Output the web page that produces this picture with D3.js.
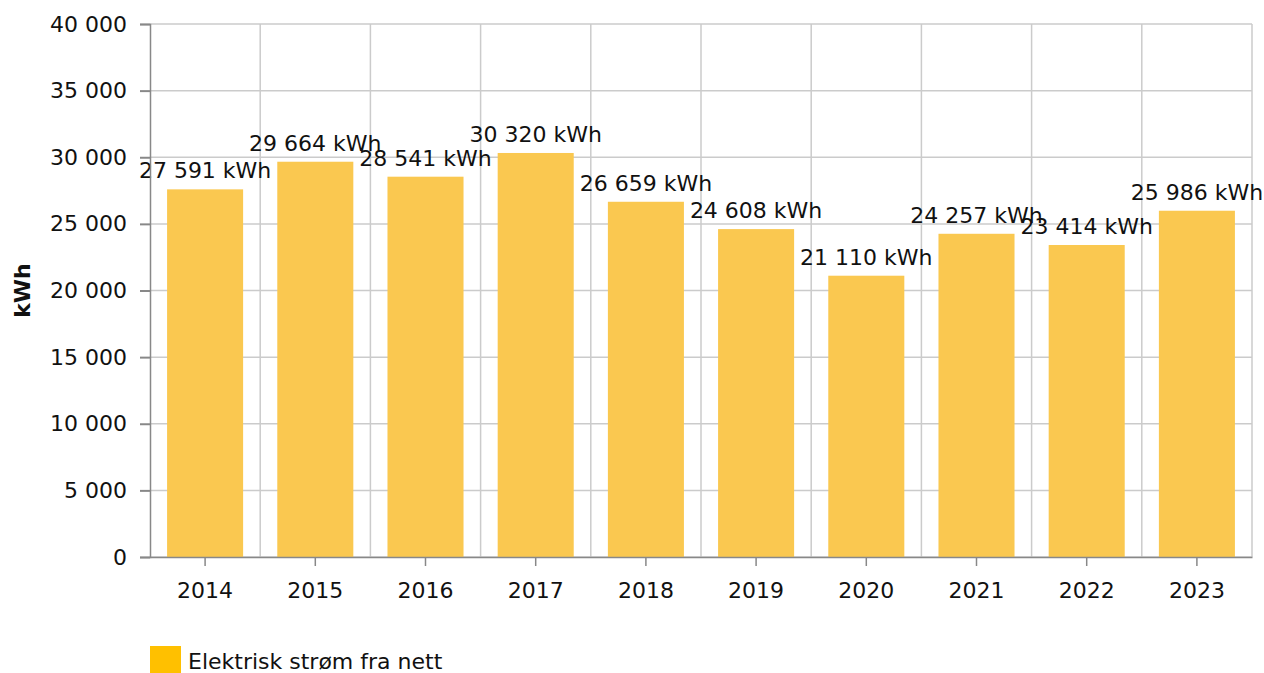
<!DOCTYPE html>
<html>
<head>
<meta charset="utf-8">
<script src="https://cdn.jsdelivr.net/npm/d3@7"></script>
<style>
  body { margin: 0; background: #fff; }
  svg text { font-family: "DejaVu Sans", Verdana, sans-serif; fill: #111; }
</style>
</head>
<body>
<div id="chart"></div>
<script>
const years = ['2014', '2015', '2016', '2017', '2018', '2019', '2020', '2021', '2022', '2023'];
const values = [27591, 29664, 28541, 30320, 26659, 24608, 21110, 24257, 23414, 25986];
const yTicks = [0, 5000, 10000, 15000, 20000, 25000, 30000, 35000, 40000];
const seriesName = 'Elektrisk strøm fra nett';
const unit = 'kWh';

const W = 1264, H = 673;
const margin = { top: 24, right: 12, bottom: 116, left: 150 };
const width = W - margin.left - margin.right;
const height = H - margin.top - margin.bottom;

// thousands with a space, like "40 000"
const fmt = v => d3.format(',')(v).replace(/,/g, ' ');

const svg = d3.select('#chart')
  .append('svg')
  .attr('width', W)
  .attr('height', H);

const g = svg.append('g')
  .attr('transform', `translate(${margin.left},${margin.top})`);

const x = d3.scaleBand()
  .domain(years)
  .range([0, width])
  .paddingInner(0.31)
  .paddingOuter(0.155);

const xCat = d3.scaleBand().domain(years).range([0, width]);

const y = d3.scaleLinear()
  .domain([0, 40000])
  .range([height, 0]);

// grid
g.append('g')
  .selectAll('line')
  .data(yTicks)
  .join('line')
  .attr('x1', 0).attr('x2', width)
  .attr('y1', d => y(d)).attr('y2', d => y(d))
  .attr('stroke', '#cbcbcb')
  .attr('stroke-width', 1.5);

g.append('g')
  .selectAll('line')
  .data(years.slice(1).concat(['end']))
  .join('line')
  .attr('x1', d => d === 'end' ? width : xCat(d))
  .attr('x2', d => d === 'end' ? width : xCat(d))
  .attr('y1', 0).attr('y2', height)
  .attr('stroke', '#cbcbcb')
  .attr('stroke-width', 1.5);

// bars
g.append('g')
  .selectAll('rect')
  .data(values)
  .join('rect')
  .attr('x', (d, i) => x(years[i]))
  .attr('y', d => y(d))
  .attr('width', x.bandwidth())
  .attr('height', d => height - y(d))
  .attr('fill', '#fac850');

// value labels
g.append('g')
  .selectAll('text')
  .data(values)
  .join('text')
  .attr('x', (d, i) => x(years[i]) + x.bandwidth() / 2)
  .attr('y', d => y(d) - 11)
  .attr('text-anchor', 'middle')
  .attr('font-size', '22px')
  .text(d => `${fmt(d)} ${unit}`);

// y axis
const yAxis = g.append('g')
  .call(d3.axisLeft(y).tickValues(yTicks).tickFormat(fmt).tickSize(10).tickPadding(13));
yAxis.select('.domain').attr('stroke', '#888').attr('stroke-width', 1.5);
yAxis.selectAll('.tick line').attr('stroke', '#888').attr('stroke-width', 2);
yAxis.selectAll('.tick text').attr('font-size', '22px').attr('font-family', null);

// x axis
const xAxis = g.append('g')
  .attr('transform', `translate(0,${height})`)
  .call(d3.axisBottom(x).tickSize(9).tickSizeOuter(0).tickPadding(16));
xAxis.select('.domain').attr('stroke', '#888').attr('stroke-width', 1.5);
xAxis.selectAll('.tick line').attr('stroke', '#888').attr('stroke-width', 1.5);
xAxis.selectAll('.tick text').attr('font-size', '22px').attr('font-family', null);

// y title
svg.append('text')
  .attr('transform', `translate(30,${margin.top + height / 2}) rotate(-90)`)
  .attr('text-anchor', 'middle')
  .attr('font-size', '22px')
  .attr('font-weight', 'bold')
  .text(unit);

// legend
const legend = svg.append('g').attr('transform', 'translate(150,646)');
legend.append('rect')
  .attr('width', 31).attr('height', 28)
  .attr('fill', '#ffc000');
legend.append('text')
  .attr('x', 38).attr('y', 23)
  .attr('font-size', '22px')
  .text(seriesName);
</script>
</body>
</html>
